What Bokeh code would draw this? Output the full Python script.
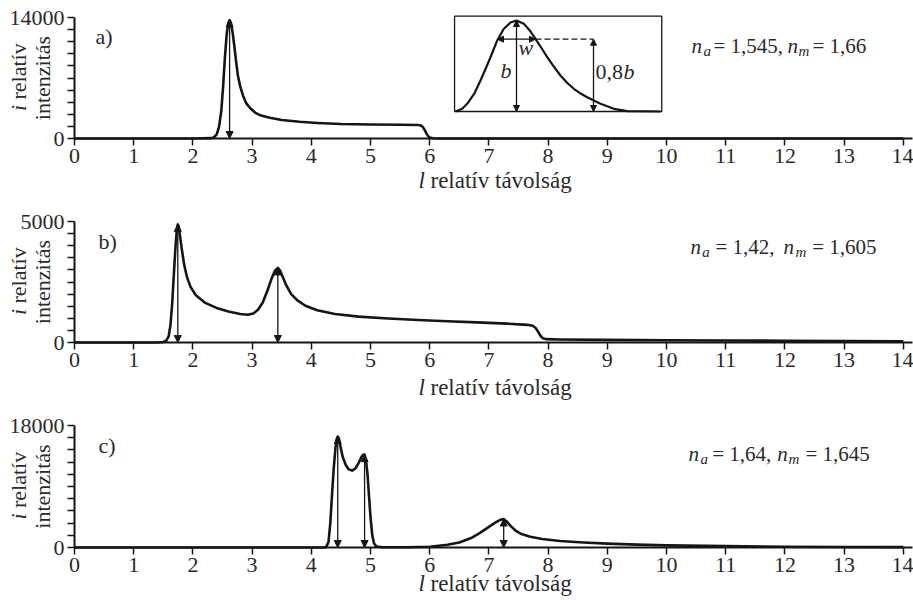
from bokeh.plotting import figure
from bokeh.layouts import column
from bokeh.models import Label, Arrow, NormalHead, FixedTicker
from bokeh.embed import file_html
from bokeh.resources import INLINE

# ---------------- data ----------------
X_TICKS = list(range(0, 15))

# panel a)  n_a = 1,545, n_m = 1,66
a_x = [0.0, 2.0, 2.30, 2.35, 2.40, 2.44, 2.48, 2.51, 2.54, 2.57, 2.595, 2.62, 2.645, 2.67,
       2.70, 2.73, 2.76, 2.80, 2.85, 2.90, 2.97, 3.05, 3.15, 3.30, 3.50, 3.80, 4.10, 4.50,
       5.00, 5.50, 5.80, 5.85, 5.88, 5.91, 5.94, 5.97, 6.00, 6.05, 6.15, 14.0]
a_y = [0, 0, 40, 120, 450, 1300, 3200, 6000, 9300, 12000, 13300, 13700, 13300, 12300,
       10700, 8900, 7300, 6000, 4900, 4100, 3500, 3000, 2650, 2400, 2150, 1930, 1800, 1680,
       1620, 1590, 1570, 1510, 1350, 1050, 650, 300, 110, 30, 0, 0]
a_ymax = 14000
a_peaks_x = [2.62]
a_peaks_y = [13700]

# panel b)  n_a = 1,42, n_m = 1,605
b_x = [0.0, 1.40, 1.50, 1.55, 1.59, 1.62, 1.65, 1.68, 1.71, 1.73, 1.745, 1.76, 1.78, 1.81,
       1.85, 1.90, 1.96, 2.05, 2.20, 2.40, 2.60, 2.80, 2.93, 3.02, 3.10, 3.18, 3.26, 3.33,
       3.39, 3.435, 3.47, 3.52, 3.58, 3.66, 3.76, 3.90, 4.10, 4.40, 4.80, 5.30, 5.80, 6.30,
       6.80, 7.30, 7.65, 7.74, 7.79, 7.83, 7.87, 7.91, 7.96, 8.20, 9.0, 10.0, 11.0, 12.0,
       13.0, 14.0]
b_y = [0, 0, 20, 80, 250, 700, 1600, 2900, 4100, 4700, 4880, 4800, 4450, 3900,
       3250, 2700, 2300, 1950, 1650, 1430, 1280, 1180, 1150, 1200, 1350, 1650, 2150, 2650,
       2980, 3080, 2980, 2700, 2350, 2000, 1750, 1520, 1330, 1180, 1070, 990, 930, 875,
       830, 780, 730, 690, 600, 450, 280, 180, 140, 125, 110, 95, 85, 75,
       60, 50]
b_ymax = 5000
b_peaks_x = [1.745, 3.435]
b_peaks_y = [4880, 3080]

# panel c)  n_a = 1,64, n_m = 1,645
c_x = [0.0, 4.20, 4.25, 4.29, 4.32, 4.35, 4.38, 4.41, 4.43, 4.447, 4.465, 4.49, 4.53, 4.58,
       4.63, 4.69, 4.75, 4.80, 4.85, 4.88, 4.90, 4.925, 4.95, 4.975, 5.00, 5.03, 5.06, 5.10,
       5.20, 5.60, 6.00, 6.30, 6.50, 6.70, 6.85, 7.00, 7.12, 7.20, 7.25, 7.30, 7.37, 7.45,
       7.55, 7.70, 7.90, 8.20, 8.60, 9.00, 9.50, 10.0, 11.0, 12.0, 13.0, 14.0]
c_y = [0, 0, 50, 800, 3500, 7800, 11800, 14800, 16000, 16370, 16100, 15000, 13400, 12200,
       11550, 11340, 11700, 12500, 13400, 13700, 13700, 12800, 10800, 7600, 4500, 1800, 600, 150,
       40, 40, 120, 400, 750, 1400, 2150, 3050, 3750, 4100, 4200, 3850, 3150, 2500,
       1980, 1600, 1250, 960, 740, 570, 430, 320, 200, 120, 80, 50]
c_ymax = 18000
c_peaks_x = [4.447, 4.90, 7.25]
c_peaks_y = [16370, 13700, 4200]

# inset (schematic peak) drawn in panel a) coordinates
inset_x = [6.436, 6.55, 6.633, 6.75, 6.858, 6.95, 7.027, 7.140, 7.252, 7.365, 7.466, 7.590,
           7.690, 7.787, 7.885, 7.985, 8.10, 8.209, 8.320, 8.434, 8.550, 8.660, 8.885,
           9.110, 9.336, 9.899]
inset_y = [3124, 3450, 4015, 5150, 6711, 8150, 9406, 11339, 12692, 13421, 13653, 13271,
           12500, 11535, 10500, 9406, 8300, 7289, 6450, 5750, 5200, 4778, 4015,
           3436, 3159, 3124]
inset_box = dict(left=6.42, right=9.92, bottom=3124, top=14150)
inset_peak_x, inset_peak_y = 7.466, 13653
inset_w_left, inset_w_right, inset_w_y = 7.145, 7.787, 11490
inset_08_x = 8.767

# ---------------- layout helpers ----------------
SERIF = "Liberation Serif"
INK = "#151515"
TXT = "#2a2a2a"
FIG_W = 913
ZERO_PX = 74            # page x of l = 0
UNIT = 59.2             # pixels per unit of l
AXIS_END_PX = 912
FIX = 5                 # baseline correction (px)


def px_x(px):
    return (px - ZERO_PX) / UNIT


class Panel:
    def __init__(self, ymax, fig_top, fig_h, top, bottom):
        self.ymax = ymax
        self.top = top
        self.bottom = bottom
        self.k = ymax / (bottom - top)
        y_end = ymax + (top - fig_top) * self.k
        y_start = -(fig_top + fig_h - bottom) * self.k
        p = figure(width=FIG_W, height=fig_h, x_range=(px_x(0), px_x(FIG_W)),
                   y_range=(y_start, y_end), output_backend="svg", toolbar_location=None,
                   min_border=0, min_border_left=0, min_border_right=0,
                   min_border_top=0, min_border_bottom=0)
        p.xgrid.visible = False
        p.ygrid.visible = False
        p.outline_line_color = None
        p.background_fill_color = "white"
        p.border_fill_color = "white"

        p.xaxis.fixed_location = 0
        p.yaxis.fixed_location = 0
        p.xaxis.bounds = (0, px_x(AXIS_END_PX))
        p.yaxis.bounds = (0, ymax)
        p.xaxis.ticker = FixedTicker(ticks=X_TICKS, minor_ticks=[])
        p.yaxis.ticker = FixedTicker(ticks=[0, ymax],
                                     minor_ticks=[ymax * i / 10 for i in range(1, 10)])
        for ax in (p.xaxis, p.yaxis):
            ax.axis_line_width = 2
            ax.axis_line_color = INK
            ax.major_tick_line_color = INK
            ax.minor_tick_line_color = INK
            ax.major_tick_line_width = 1.5
            ax.minor_tick_line_width = 1.5
            ax.major_tick_in = 0
            ax.major_tick_out = 7
            ax.minor_tick_in = 0
            ax.minor_tick_out = 7
            ax.major_label_text_font = SERIF
            ax.major_label_text_font_size = "22px"
            ax.major_label_text_color = TXT
        p.yaxis.major_label_standoff = 3
        p.xaxis.major_label_standoff = 3
        self.p = p

    def py_y(self, py):
        return (self.bottom - py) * self.k


def add_text(p, x, y, text, size="22px", style="normal", align="left", angle=0.0):
    p.add_layout(Label(x=x, y=y, text=text, text_font=SERIF, text_font_size=size,
                       text_font_style=style, text_color=TXT, text_align=align,
                       text_baseline="alphabetic", angle=angle))


def htext(pn, px, py, text, **kw):
    add_text(pn.p, px_x(px), pn.py_y(py - FIX), text, **kw)


def vtext(pn, px, py, text, **kw):
    add_text(pn.p, px_x(px - FIX), pn.py_y(py), text, angle=1.5708, **kw)


def arrow(p, x0, y0, x1, y1, size=7):
    p.add_layout(Arrow(x_start=x0, y_start=y0, x_end=x1, y_end=y1, line_width=1.3,
                       line_color=INK,
                       start=NormalHead(size=size, fill_color=INK, line_color=INK, line_width=1),
                       end=NormalHead(size=size, fill_color=INK, line_color=INK, line_width=1)))


def decorate(pn, letter, letter_px, letter_base, na, nm, n_pos, title_base):
    htext(pn, letter_px, letter_base, letter)
    (nx1, ax1, ex1, nx2, mx2, ex2, base) = n_pos
    htext(pn, nx1, base, "n", size="21px", style="italic")
    htext(pn, ax1, base + 5, "a", size="15px", style="italic")
    htext(pn, ex1, base, "= " + na + ",", size="21px")
    htext(pn, nx2, base, "n", size="21px", style="italic")
    htext(pn, mx2, base + 5, "m", size="15px", style="italic")
    htext(pn, ex2, base, "= " + nm, size="21px")
    # x-axis title
    htext(pn, 418, title_base, "l", size="23px", style="italic")
    htext(pn, 430, title_base, "relatív távolság", size="23px")
    # y-axis title (rotated)
    cy = (pn.top + pn.bottom) / 2
    vtext(pn, 23, cy + 33, "i", style="italic")
    vtext(pn, 23, cy + 21.5, "relatív")
    vtext(pn, 47, cy, "intenzitás", align="center")


# ---------------- panel a ----------------
A = Panel(a_ymax, 0, 200, 17, 138)
pa = A.p
pa.line(a_x, a_y, line_width=2.6, line_color=INK, line_join="round")
for xp, yp in zip(a_peaks_x, a_peaks_y):
    arrow(pa, xp, yp, xp, 0)
decorate(A, "a)", 95, 41, "1,545", "1,66", (691, 703, 713, 787, 798, 812, 50), 185)

pa.quad(left=[inset_box["left"]], right=[inset_box["right"]], bottom=[inset_box["bottom"]],
        top=[inset_box["top"]], fill_color=None, line_color=INK, line_width=1.3)
pa.line(inset_x, inset_y, line_width=2.2, line_color=INK, line_join="round")
arrow(pa, inset_peak_x, inset_peak_y, inset_peak_x, inset_box["bottom"], size=6)
arrow(pa, inset_w_left, inset_w_y, inset_w_right, inset_w_y, size=6)
pa.line([inset_w_right, inset_08_x], [inset_w_y, inset_w_y], line_width=1.3,
        line_color=INK, line_dash="6 3")
arrow(pa, inset_08_x, inset_w_y, inset_08_x, inset_box["bottom"], size=6)
htext(A, 518, 52, "w", style="italic")
htext(A, 500, 75, "b", style="italic")
htext(A, 595, 76, "0,8")
htext(A, 623, 76, "b", style="italic")

# ---------------- panel b ----------------
B = Panel(b_ymax, 200, 202, 221, 342)
pb = B.p
pb.line(b_x, b_y, line_width=2.6, line_color=INK, line_join="round")
for xp, yp in zip(b_peaks_x, b_peaks_y):
    arrow(pb, xp, yp, xp, 0)
decorate(B, "b)", 98, 246, "1,42", "1,605", (690, 701.7, 715, 783, 795, 811.7, 251.7), 392)

# ---------------- panel c ----------------
C = Panel(c_ymax, 402, 197, 425, 547)
pc = C.p
pc.line(c_x, c_y, line_width=2.6, line_color=INK, line_join="round")
for xp, yp in zip(c_peaks_x, c_peaks_y):
    arrow(pc, xp, yp, xp, 0)
decorate(C, "c)", 98, 450, "1,64", "1,645", (688, 700, 711.7, 776.7, 788, 805, 458.7), 588)

layout = column(pa, pb, pc, spacing=0)
open("out.html", "w").write(file_html(layout, INLINE))
